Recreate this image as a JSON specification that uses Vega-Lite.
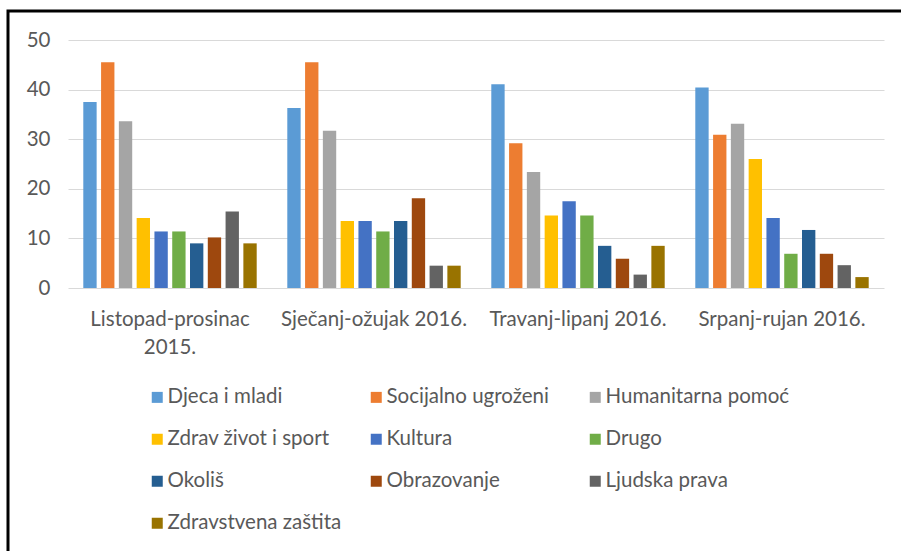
{
  "$schema": "https://vega.github.io/schema/vega-lite/v6.json",
  "width": 913,
  "height": 560,
  "autosize": {"type": "none"},
  "padding": {"left": 8, "top": 11, "right": -20, "bottom": -20},
  "background": "white",
  "config": {"view": {"stroke": "#000000", "strokeWidth": 3}, "font": "Lato"},
  "data": {
    "values": [
      {"period": "Listopad-prosinac 2015.", "category": "Djeca i mladi", "value": 37.5},
      {"period": "Listopad-prosinac 2015.", "category": "Socijalno ugroženi", "value": 45.5},
      {"period": "Listopad-prosinac 2015.", "category": "Humanitarna pomoć", "value": 33.6},
      {"period": "Listopad-prosinac 2015.", "category": "Zdrav život i sport", "value": 14.1},
      {"period": "Listopad-prosinac 2015.", "category": "Kultura", "value": 11.4},
      {"period": "Listopad-prosinac 2015.", "category": "Drugo", "value": 11.4},
      {"period": "Listopad-prosinac 2015.", "category": "Okoliš", "value": 9.0},
      {"period": "Listopad-prosinac 2015.", "category": "Obrazovanje", "value": 10.2},
      {"period": "Listopad-prosinac 2015.", "category": "Ljudska prava", "value": 15.4},
      {"period": "Listopad-prosinac 2015.", "category": "Zdravstvena zaštita", "value": 9.0},
      {"period": "Sječanj-ožujak 2016.", "category": "Djeca i mladi", "value": 36.3},
      {"period": "Sječanj-ožujak 2016.", "category": "Socijalno ugroženi", "value": 45.5},
      {"period": "Sječanj-ožujak 2016.", "category": "Humanitarna pomoć", "value": 31.7},
      {"period": "Sječanj-ožujak 2016.", "category": "Zdrav život i sport", "value": 13.5},
      {"period": "Sječanj-ožujak 2016.", "category": "Kultura", "value": 13.5},
      {"period": "Sječanj-ožujak 2016.", "category": "Drugo", "value": 11.4},
      {"period": "Sječanj-ožujak 2016.", "category": "Okoliš", "value": 13.5},
      {"period": "Sječanj-ožujak 2016.", "category": "Obrazovanje", "value": 18.1},
      {"period": "Sječanj-ožujak 2016.", "category": "Ljudska prava", "value": 4.5},
      {"period": "Sječanj-ožujak 2016.", "category": "Zdravstvena zaštita", "value": 4.5},
      {"period": "Travanj-lipanj 2016.", "category": "Djeca i mladi", "value": 41.1},
      {"period": "Travanj-lipanj 2016.", "category": "Socijalno ugroženi", "value": 29.2},
      {"period": "Travanj-lipanj 2016.", "category": "Humanitarna pomoć", "value": 23.4},
      {"period": "Travanj-lipanj 2016.", "category": "Zdrav život i sport", "value": 14.6},
      {"period": "Travanj-lipanj 2016.", "category": "Kultura", "value": 17.5},
      {"period": "Travanj-lipanj 2016.", "category": "Drugo", "value": 14.6},
      {"period": "Travanj-lipanj 2016.", "category": "Okoliš", "value": 8.5},
      {"period": "Travanj-lipanj 2016.", "category": "Obrazovanje", "value": 5.9},
      {"period": "Travanj-lipanj 2016.", "category": "Ljudska prava", "value": 2.7},
      {"period": "Travanj-lipanj 2016.", "category": "Zdravstvena zaštita", "value": 8.5},
      {"period": "Srpanj-rujan 2016.", "category": "Djeca i mladi", "value": 40.4},
      {"period": "Srpanj-rujan 2016.", "category": "Socijalno ugroženi", "value": 30.9},
      {"period": "Srpanj-rujan 2016.", "category": "Humanitarna pomoć", "value": 33.1},
      {"period": "Srpanj-rujan 2016.", "category": "Zdrav život i sport", "value": 26.0},
      {"period": "Srpanj-rujan 2016.", "category": "Kultura", "value": 14.1},
      {"period": "Srpanj-rujan 2016.", "category": "Drugo", "value": 6.9},
      {"period": "Srpanj-rujan 2016.", "category": "Okoliš", "value": 11.7},
      {"period": "Srpanj-rujan 2016.", "category": "Obrazovanje", "value": 6.9},
      {"period": "Srpanj-rujan 2016.", "category": "Ljudska prava", "value": 4.6},
      {"period": "Srpanj-rujan 2016.", "category": "Zdravstvena zaštita", "value": 2.2}
    ]
  },
  "mark": {"type": "bar"},
  "encoding": {
    "x": {
      "field": "period",
      "type": "nominal",
      "sort": ["Listopad-prosinac 2015.", "Sječanj-ožujak 2016.", "Travanj-lipanj 2016.", "Srpanj-rujan 2016."],
      "scale": {"range": [60, 876], "paddingInner": 0.15, "paddingOuter": 0.075},
      "axis": {
        "title": null,
        "orient": "bottom",
        "offset": -283,
        "domain": false,
        "ticks": false,
        "grid": false,
        "labelAngle": 0,
        "labelPadding": 21,
        "labelFontSize": 20.5,
        "labelColor": "#595959",
        "labelLineHeight": 28,
        "labelBaseline": "top",
        "labelLimit": 400,
        "labelExpr": "datum.label == 'Listopad-prosinac 2015.' ? ['Listopad-prosinac', '2015.'] : datum.label"
      }
    },
    "xOffset": {
      "field": "category",
      "type": "nominal",
      "sort": ["Djeca i mladi", "Socijalno ugroženi", "Humanitarna pomoć", "Zdrav život i sport", "Kultura", "Drugo", "Okoliš", "Obrazovanje", "Ljudska prava", "Zdravstvena zaštita"],
      "scale": {"paddingInner": 0.25, "paddingOuter": 0}
    },
    "y": {
      "field": "value",
      "type": "quantitative",
      "scale": {"domain": [0, 50], "range": [277, 29], "nice": false},
      "axis": {
        "title": null,
        "values": [0, 10, 20, 30, 40, 50],
        "offset": -42,
        "domain": false,
        "ticks": false,
        "labelPadding": 0,
        "labelFontSize": 20.5,
        "labelColor": "#595959",
        "gridColor": "#d9d9d9",
        "gridWidth": 1
      }
    },
    "color": {
      "field": "category",
      "type": "nominal",
      "scale": {
        "domain": ["Djeca i mladi", "Socijalno ugroženi", "Humanitarna pomoć", "Zdrav život i sport", "Kultura", "Drugo", "Okoliš", "Obrazovanje", "Ljudska prava", "Zdravstvena zaštita"],
        "range": ["#5B9BD5", "#ED7D31", "#A5A5A5", "#FFC000", "#4472C4", "#70AD47", "#255E91", "#9E480E", "#636363", "#997300"]
      },
      "legend": {
        "title": null,
        "orient": "none",
        "direction": "horizontal",
        "legendX": 139,
        "legendY": 376,
        "columns": 3,
        "gridAlign": "all",
        "padding": 0,
        "symbolType": "square",
        "symbolSize": 121,
        "symbolStrokeWidth": 0,
        "labelFontSize": 20.5,
        "labelColor": "#595959",
        "labelOffset": 0,
        "labelLimit": 400,
        "rowPadding": 21,
        "columnPadding": 14
      }
    }
  }
}
